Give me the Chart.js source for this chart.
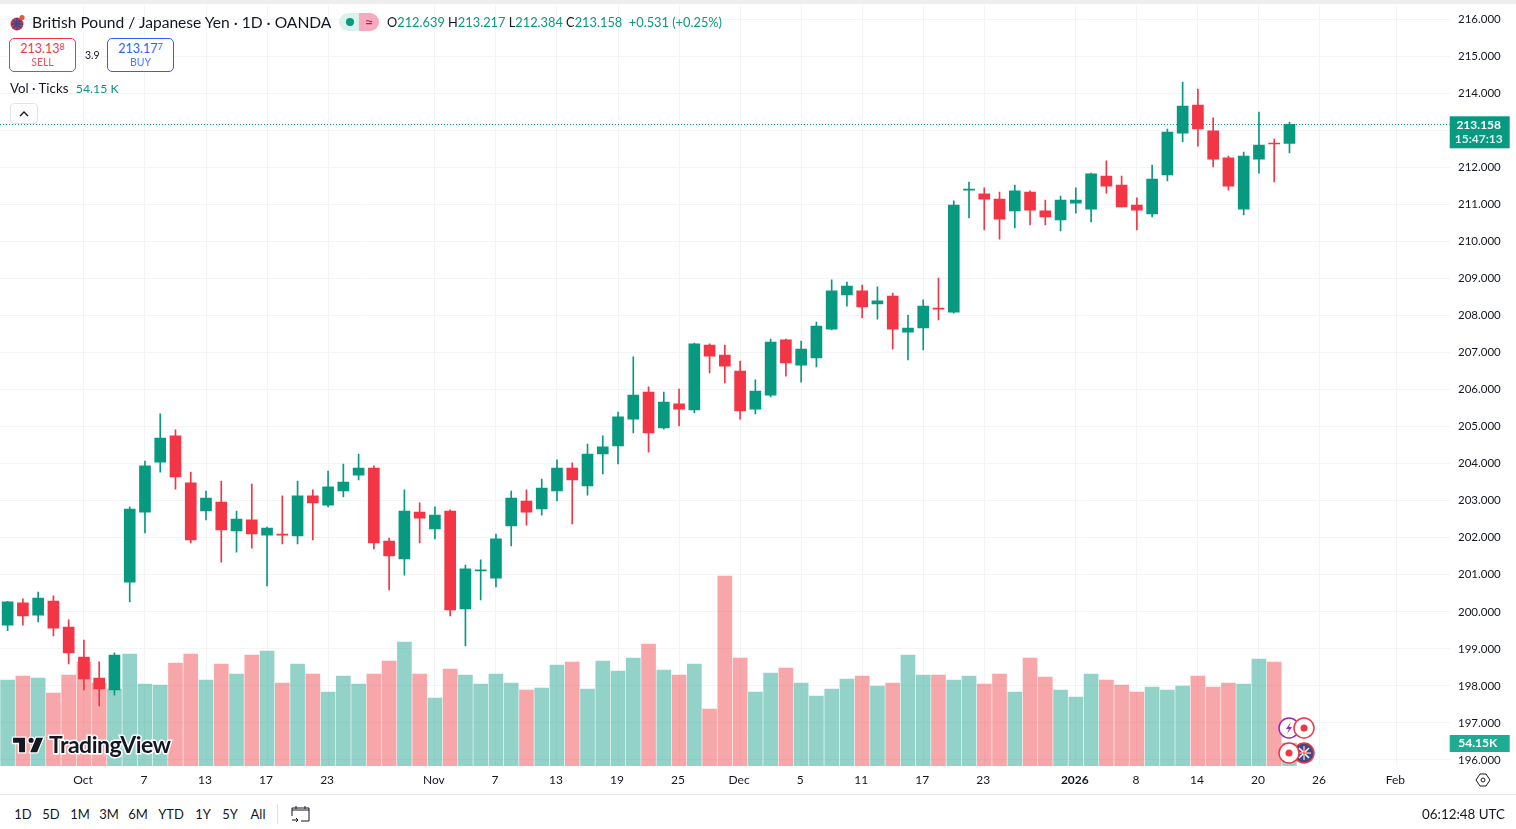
<!DOCTYPE html>
<html>
<head>
<meta charset="utf-8">
<title>GBPJPY</title>
<script src="https://cdn.jsdelivr.net/npm/chart.js@4"></script>
<style>
  html, body { margin: 0; padding: 0; background: #fff; }
  body { width: 1516px; height: 829px; overflow: hidden; position: relative; font-family: "Lato", "Noto Sans", sans-serif; color: #131722; }
  #topband { position: absolute; left: 0; top: 0; width: 1516px; height: 4px; background: #eeeeee; }
  #wrap { position: absolute; left: 0; top: 0; width: 1516px; height: 794px; }
  #bottomline { position: absolute; left: 0; top: 794px; width: 1516px; height: 1px; background: #e3e5ea; }
  .abs { position: absolute; white-space: nowrap; line-height: 1; }
  .t { color: #089981; }
  .box { position: absolute; top: 38px; width: 65px; height: 32px; border-radius: 5px; border: 1px solid; background: #fff; text-align: center; }
  .box .p { display: block; font-size: 12.5px; line-height: 13px; margin-top: 3px; }
  .box .p sup { font-size: 9px; line-height: 0; vertical-align: 3px; }
  .box .s { display: block; font-size: 10.5px; line-height: 11px; margin-top: 2px; opacity: 0.85; }
  .range { position: absolute; top: 807px; font-size: 13px; line-height: 14px; transform: translateX(-50%); }
</style>
</head>
<body>
<div id="topband"></div>
<div id="wrap"><canvas id="priceChart" width="1516" height="794"></canvas></div>
<div id="bottomline"></div>

<svg class="abs" style="left:9px;top:14px" width="17" height="18" viewBox="0 0 17 18">
  <circle cx="8" cy="10" r="6.5" fill="#c8354a"/><path d="M2 10h12M8 4v12M4 6l8 8M12 6l-8 8" stroke="#3b4a8c" stroke-width="1.6"/>
  <circle cx="13" cy="3.5" r="2.6" fill="#e2574c"/>
</svg>
<div class="abs" style="left:32px;top:15px;font-size:15.6px;">British Pound / Japanese Yen · 1D · OANDA</div>
<div class="abs" style="left:339px;top:13px;width:20px;height:18px;background:#daf1ec;border-radius:9px 0 0 9px;"></div>
<div class="abs" style="left:346px;top:18px;width:8px;height:8px;background:#089981;border-radius:50%;"></div>
<div class="abs" style="left:359px;top:13px;width:20px;height:18px;background:#f7a9bd;border-radius:0 9px 9px 0;text-align:center;font-size:15px;line-height:18px;color:#c2185b;">≈</div>
<div class="abs" style="left:387px;top:16px;font-size:12.8px;">O<span class="t">212.639</span> H<span class="t">213.217</span> L<span class="t">212.384</span> C<span class="t">213.158</span> <span class="t">&nbsp;+0.531 (+0.25%)</span></div>

<div class="box" style="left:9px;color:#f23645;border-color:#f23645;"><span class="p">213.13<sup>8</sup></span><span class="s">SELL</span></div>
<div class="abs" style="left:85px;top:50px;font-size:10.5px;">3.9</div>
<div class="box" style="left:107px;color:#2962ff;border-color:#2962ff;"><span class="p">213.17<sup>7</sup></span><span class="s">BUY</span></div>
<div class="abs" style="left:10px;top:82px;font-size:13.3px;">Vol · Ticks <span class="t" style="margin-left:4px;font-size:12.3px;">54.15 K</span></div>
<div class="abs" style="left:10px;top:103px;width:26px;height:19px;border:1px solid #e0e3eb;border-radius:4px;background:#fff;">
  <svg width="26" height="19" viewBox="0 0 26 19"><path d="M9 12l4-4 4 4" fill="none" stroke="#131722" stroke-width="1.4"/></svg>
</div>

<svg class="abs" style="left:13px;top:736px;overflow:visible" width="31" height="18" viewBox="0 0 36 21">
  <path d="M14 3H0v6h7v11h7V3zm14 17h-8l7-17h8l-7 17zM21 9a3 3 0 1 0 0-6 3 3 0 0 0 0 6z" transform="translate(0,-1)" fill="#131722" stroke="#fff" stroke-width="3" paint-order="stroke"/>
</svg>
<div class="abs" style="left:49px;top:733px;font-size:23px;font-weight:700;letter-spacing:-0.5px;color:#131722;-webkit-text-stroke:3px #fff;paint-order:stroke fill;">TradingView</div>

<svg class="abs" style="left:1277px;top:716px" width="40" height="50" viewBox="0 0 40 50">
  <circle cx="12" cy="12" r="10" fill="#fff" stroke="#9c27b0" stroke-width="1.5"/><path d="M14 6l-5 7h3l-2 5 5-7h-3z" fill="#9c27b0"/>
  <circle cx="27" cy="12" r="10" fill="#fff" stroke="#f23645" stroke-width="1.5"/><circle cx="27" cy="12" r="3.5" fill="#f23645"/>
  <circle cx="27" cy="37" r="10" fill="#3b4a8c" stroke="#f23645" stroke-width="1.5"/><path d="M20 37h14M27 30v14M22 32l10 10M32 32l-10 10" stroke="#fff" stroke-width="1.5"/><path d="M20 37h14M27 30v14" stroke="#e2574c" stroke-width="1"/>
  <circle cx="12" cy="37" r="10" fill="#fff" stroke="#f23645" stroke-width="1.5"/><circle cx="12" cy="37" r="3.5" fill="#f23645"/>
</svg>

<svg class="abs" style="left:1475px;top:772px" width="16" height="16" viewBox="0 0 16 16">
  <path d="M5 2h6l4 6-4 6H5L1 8z" fill="none" stroke="#131722" stroke-width="1"/><circle cx="8" cy="8" r="2" fill="none" stroke="#131722"/>
</svg>

<div class="range" style="left:23px;">1D</div>
<div class="range" style="left:51px;">5D</div>
<div class="range" style="left:80px;">1M</div>
<div class="range" style="left:109px;">3M</div>
<div class="range" style="left:138px;">6M</div>
<div class="range" style="left:171px;">YTD</div>
<div class="range" style="left:203px;">1Y</div>
<div class="range" style="left:230px;">5Y</div>
<div class="range" style="left:258px;">All</div>
<div class="abs" style="left:277px;top:804px;width:1px;height:20px;background:#e0e3eb;"></div>
<svg class="abs" style="left:291px;top:804px" width="20" height="20" viewBox="0 0 20 20">
  <path d="M1 6h17M5 2v3M14 2v3M1 12V4h17v13H10M1 16h6M5 14l2 2-2 2" fill="none" stroke="#131722" stroke-width="1"/>
</svg>
<div class="abs" style="right:11px;top:807px;font-size:13.4px;line-height:14px;">06:12:48 UTC</div>

<script>
// trading days shown on the time axis, the last ten have no bar yet
const categories = [
    'Sep 24','Sep 25','Sep 26','Sep 29','Sep 30','Oct 1','Oct 2','Oct 3','Oct 6','Oct 7','Oct 8','Oct 9','Oct 10',
    'Oct 13','Oct 14','Oct 15','Oct 16','Oct 17','Oct 20','Oct 21','Oct 22','Oct 23','Oct 24','Oct 27','Oct 28','Oct 29','Oct 30','Oct 31',
    'Nov 3','Nov 4','Nov 5','Nov 6','Nov 7','Nov 10','Nov 11','Nov 12','Nov 13','Nov 14','Nov 17','Nov 18','Nov 19','Nov 20','Nov 21',
    'Nov 24','Nov 25','Nov 26','Nov 27','Nov 28','Dec 1','Dec 2','Dec 3','Dec 4','Dec 5','Dec 8','Dec 9','Dec 10','Dec 11','Dec 12',
    'Dec 15','Dec 16','Dec 17','Dec 18','Dec 19','Dec 22','Dec 23','Dec 24','Dec 26','Dec 29','Dec 30','Dec 31',
    'Jan 2','Jan 5','Jan 6','Jan 7','Jan 8','Jan 9','Jan 12','Jan 13','Jan 14','Jan 15','Jan 16','Jan 19','Jan 20','Jan 21','Jan 22',
    'Jan 23','Jan 26','Jan 27','Jan 28','Jan 29','Jan 30','Feb 2','Feb 3','Feb 4','Feb 5'
];

const opens = [
    199.64,200.24,199.91,200.29,199.59,198.78,198.21,197.89,200.80,202.69,204.04,204.75,203.48,202.72,202.96,202.18,202.48,
    202.07,202.10,202.05,203.13,202.88,203.26,203.69,203.88,201.91,201.43,202.69,202.24,202.72,200.08,201.10,200.91,202.32,
    202.99,202.78,203.26,203.88,203.40,204.26,204.48,205.20,205.93,204.96,205.61,205.45,207.20,206.93,206.50,205.47,205.85,
    207.34,206.66,206.85,207.63,208.55,208.66,208.31,208.52,207.55,207.66,208.20,208.09,211.38,211.28,211.14,210.82,211.33,
    210.82,210.58,211.03,210.87,211.76,211.52,210.98,210.74,211.79,212.92,213.68,212.98,212.25,210.87,212.22,212.65,212.639
];
const highs = [
    200.28,200.35,200.53,200.43,199.78,199.24,198.65,198.89,202.83,204.07,205.34,204.91,203.77,203.26,203.53,202.72,203.45,
    202.29,203.13,203.53,203.29,203.80,203.99,204.26,203.94,201.99,203.29,202.94,202.83,202.75,201.26,201.40,202.10,203.26,
    203.29,203.58,204.10,204.02,204.53,204.75,205.39,206.88,206.07,205.93,206.01,207.25,207.23,207.20,206.77,206.26,207.36,
    207.36,207.31,207.82,208.96,208.90,208.82,208.77,208.60,208.01,208.42,209.01,211.09,211.60,211.44,211.33,211.52,211.36,
    211.11,211.22,211.44,211.84,212.17,211.76,211.17,212.06,213.03,214.30,214.11,213.33,212.30,212.41,213.49,212.76,213.217
];
const lows = [
    199.49,199.64,199.73,199.35,198.59,197.89,197.46,197.75,200.27,202.13,203.77,203.31,201.86,202.48,201.34,201.61,201.72,
    200.70,201.83,201.83,201.94,202.83,203.10,203.56,201.70,200.59,200.99,201.86,201.97,199.89,199.08,200.32,200.67,201.78,
    202.34,202.61,202.99,202.37,203.15,203.72,203.99,204.83,204.31,204.93,205.02,205.37,206.45,206.18,205.20,205.34,205.80,
    206.36,206.20,206.61,207.61,208.25,207.93,207.90,207.09,206.80,207.07,207.88,208.06,210.63,210.31,210.06,210.36,210.44,
    210.44,210.28,210.76,210.52,211.30,210.93,210.31,210.66,211.63,212.68,212.57,212.01,211.38,210.71,211.84,211.60,212.384
];
const closes = [
    200.27,199.89,200.37,199.56,198.89,198.19,197.92,198.83,202.77,203.94,204.69,203.64,201.94,203.07,202.21,202.50,202.10,
    202.26,202.07,203.13,202.94,203.37,203.50,203.88,201.86,201.51,202.72,202.53,202.61,200.05,201.16,201.13,201.97,203.07,
    202.69,203.34,203.88,203.56,204.26,204.45,205.26,205.85,204.83,205.66,205.47,207.23,206.90,206.63,205.42,205.96,207.28,
    206.72,207.09,207.71,208.66,208.79,208.23,208.39,207.63,207.66,208.25,208.17,210.98,211.41,211.14,210.60,211.36,210.84,
    210.66,211.11,211.11,211.82,211.49,210.93,210.84,211.68,212.95,213.65,213.03,212.22,211.49,212.30,212.60,212.63,213.158
];
// tick volume, thousands
const volumes = [
    202.4,211.9,207.2,171.8,214.2,244.8,195.4,181.3,263.6,193,190.7,242.5,263.6,202.4,240.1,216.6,261.3,
    270.7,195.4,240.1,216.6,174.2,211.9,193,216.6,247.2,291.9,216.6,160.1,228.3,214.2,193,216.6,195.4,
    178.9,183.6,237.8,244.8,181.3,247.2,223.6,254.2,287.2,226,214.2,240.1,134.2,447.3,254.2,174.2,218.9,
    230.7,195.4,164.8,181.3,204.8,211.9,188.3,195.4,261.3,214.2,214.2,202.4,211.9,193,216.6,174.2,254.2,
    209.5,178.9,162.4,216.6,202.4,190.7,174.2,186,178.9,188.3,211.9,186,195.4,193,251.9,244.8,54.15
];

const priceTicks = [196,197,198,199,200,201,202,203,204,205,206,207,208,209,210,211,212,213,214,215,216];
const tickDates = ['Oct 1','Oct 7','Oct 13','Oct 17','Oct 23','Nov 3','Nov 7','Nov 13','Nov 19','Nov 25','Dec 1','Dec 5','Dec 11','Dec 17','Dec 23','Jan 2','Jan 8','Jan 14','Jan 20','Jan 26','Feb 2'];
const tickLabels = ['Oct','7','13','17','23','Nov','7','13','19','25','Dec','5','11','17','23','2026','8','14','20','26','Feb'];

const lastPrice = '213.158';
const countdown = '15:47:13';
const lastVolume = '54.15K';

const UP = '#089981';
const DOWN = '#f23645';
const UP_VOL = 'rgba(8, 153, 129, 0.44)';
const DOWN_VOL = 'rgba(238, 60, 65, 0.45)';
const GRID = '#f3f4f6';
const FONT = '"Lato", "Noto Sans", sans-serif';

const candleColors = closes.map((c, i) => c >= opens[i] ? UP : DOWN);
const volumeColors = closes.map((c, i) => c >= opens[i] ? UP_VOL : DOWN_VOL);

// last price line and the two badges on the axis
const lastValuePlugin = {
    id: 'lastValue',
    beforeDatasetsDraw(chart) {
        const ctx = chart.ctx;
        const y = Math.round(chart.scales.y.getPixelForValue(closes[closes.length - 1])) + 0.5;
        ctx.save();
        ctx.strokeStyle = UP;
        ctx.setLineDash([1, 2]);
        ctx.beginPath();
        ctx.moveTo(0, y);
        ctx.lineTo(chart.chartArea.right, y);
        ctx.stroke();
        ctx.restore();
    },
    afterDraw(chart) {
        const ctx = chart.ctx;
        const left = chart.chartArea.right;
        const y = chart.scales.y.getPixelForValue(closes[closes.length - 1]);
        const vy = chart.scales.volume.getPixelForValue(volumes[volumes.length - 1]);
        ctx.save();
        ctx.textAlign = 'center';
        ctx.textBaseline = 'middle';
        ctx.fillStyle = UP;
        ctx.fillRect(left, y - 8, 60, 32);
        ctx.fillStyle = '#fff';
        ctx.font = 'bold 12px ' + FONT;
        ctx.fillText(lastPrice, left + 29, y + 0.5);
        ctx.fillStyle = 'rgba(255,255,255,0.85)';
        ctx.fillText(countdown, left + 29, y + 14.5);
        ctx.fillStyle = '#22ab94';
        ctx.fillRect(left, vy - 8, 60, 17);
        ctx.fillStyle = '#fff';
        ctx.fillText(lastVolume, left + 28, vy + 0.5);
        ctx.restore();
    }
};

const priceChartCtx = document.getElementById('priceChart').getContext('2d');
const priceChart = new Chart(priceChartCtx, {
    type: 'bar',
    data: {
        labels: categories,
        datasets: [
            {
                label: 'Candle body',
                data: closes.map((c, i) => [opens[i], c]),
                backgroundColor: candleColors,
                barThickness: 11,
                grouped: false,
                yAxisID: 'y',
                order: 1
            },
            {
                label: 'Candle wick',
                data: highs.map((h, i) => [lows[i], h]),
                backgroundColor: candleColors,
                barThickness: 1,
                grouped: false,
                yAxisID: 'y',
                order: 2
            },
            {
                label: 'Vol',
                data: volumes,
                backgroundColor: volumeColors,
                barThickness: 14,
                grouped: false,
                yAxisID: 'volume',
                order: 3
            }
        ]
    },
    options: {
        responsive: false,
        animation: false,
        events: [],
        layout: { padding: { top: 5 } },
        plugins: { legend: { display: false }, tooltip: { enabled: false } },
        scales: {
            x: {
                offset: true,
                grid: { offset: false, color: GRID, drawTicks: false },
                border: { display: false },
                afterBuildTicks(scale) {
                    scale.ticks = scale.ticks.filter(t => tickDates.includes(categories[t.value]));
                },
                afterFit(scale) { scale.height = 28; },
                ticks: {
                    autoSkip: false,
                    maxRotation: 0,
                    padding: 7,
                    labelOffset: -1,
                    color: '#131722',
                    font: ctx => ({ family: FONT, size: 12, weight: ctx.tick && ctx.tick.label === '2026' ? 'bold' : 'normal' }),
                    callback(value) {
                        return tickLabels[tickDates.indexOf(categories[value])];
                    }
                }
            },
            y: {
                position: 'right',
                min: 195.838,
                max: 216.378,
                grid: { color: GRID, drawTicks: false },
                border: { display: false },
                afterBuildTicks(scale) {
                    scale.ticks = priceTicks.map(v => ({ value: v }));
                },
                afterFit(scale) {
                    scale.width = 66.3;
                    scale.paddingTop = 0;
                    scale.paddingBottom = 0;
                },
                ticks: {
                    padding: 8.3,
                    color: '#131722',
                    font: { family: FONT, size: 11.5 },
                    callback: v => v.toFixed(3)
                }
            },
            volume: {
                display: false,
                min: 0,
                max: 1791.6
            }
        }
    },
    plugins: [lastValuePlugin]
});
</script>
</body>
</html>
